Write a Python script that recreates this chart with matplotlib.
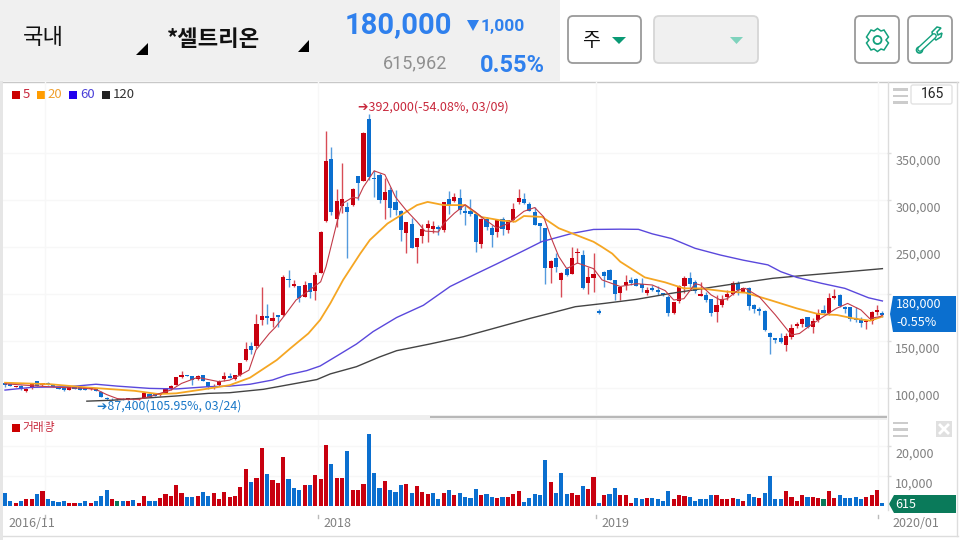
import matplotlib
matplotlib.use("Agg")
import matplotlib.pyplot as plt
from matplotlib.patches import Circle, FancyBboxPatch, Polygon, Rectangle
from matplotlib.transforms import ScaledTranslation

plt.rcParams["font.family"] = ["Noto Sans CJK KR", "DejaVu Sans"]

# weekly candles, thousand won
opens = [105.6,103.9,101.4,102.4,96.4,99.6,107.1,102.8,105.6,103.5,101,100,97.9,102.1,100.7,100.3,98.6,99.3,96,89.7,
         88.6,87.9,88.6,87.9,88.5,87.9,89.3,94,93.6,92.2,95,98.6,103.2,111.7,113.8,112.7,109.5,113.4,106.4,99.6,
         102.8,109.5,112.4,109.2,113.4,129.4,144.3,144.3,172.7,176.2,171.2,177.3,177.6,215.6,208.8,208.8,197.1,211.3,203.5,222.6,
         278,343.2,280.1,293.2,292.5,294.6,325.5,320.5,386.1,323.4,326.6,300,310.2,297.5,288.6,264.5,274.4,249.9,262,270.5,
         268.7,271.6,268,301,299.2,302.1,288.6,288.2,284.7,253.5,279.4,269.8,265.5,279.4,268,278.3,297.8,301.4,295.7,286.8,
         275.5,269.8,227.6,237.9,214.8,226.2,221.6,243.9,241.4,211.3,216.6,182.2,223.3,225.8,214.5,200.6,209.6,214.9,216.3,210.3,
         201.4,206,204.6,200.7,197.2,179.4,192.6,208.9,217,212.4,198.2,199,194.3,180.5,188.3,196.5,200,212,202.5,206.4,
         188,184.4,182,158.5,153.2,153.2,146,154.6,166,168.1,175.2,165.2,172.3,183,179.4,196.1,199,186.5,185.8,174.5,
         173.1,169.9,171.3,180.9,179.8]
highs = [106.7,104.5,102.5,102.8,99.6,105.6,107.5,105.6,106,104,101.4,100.4,101,102.5,101,100.7,101,99.6,96.4,90.5,
         89,89,89,89.3,89,89.7,94.7,94.3,94,95,100,103,112,118,114.2,113,114,113.8,106.7,104,
         108.5,116.6,116,113.8,127,148.5,149.3,178.3,207,189.3,180.5,177.3,220,225.5,214.9,209,213.8,211.6,223.7,267,
         373.7,356,311.3,339,298.2,312.5,326,372,392,331.9,328.3,323,314.1,310.6,289,276.9,280.4,259.5,274,278.7,
         277.6,273.7,298.2,309.9,307,311.3,294.6,301.4,285,280.4,282.2,273.3,278.7,282.2,279,296.4,311.3,307.8,298.2,292.1,
         276,270,236,243.2,223.7,228.3,249.6,248.5,246.7,229,243.2,183.6,224,226.5,215,207.5,220.2,217.8,216.7,216.7,
         207.8,209.6,208.9,201,199,191.5,209.6,219.2,223,215,213.1,202.5,194.7,199,199,204.3,213.8,213.8,207.8,207.8,
         189.4,185.8,183,160,153.5,158.2,158.2,168,170.6,174.8,175.5,174,183.7,188.3,201.4,205.3,199.6,187.2,186.5,185.8,
         175.9,172.3,182.3,188.3,182.3]
lows = [101.4,102,101,98.2,96,99.2,102,102.4,103,100.7,98.9,97.1,97.5,99,98,98,98.2,96.8,90,87.4,
        87.6,87.6,87.7,87.6,87.7,87.6,89,90.4,91,92,94.7,98.2,103,110.6,112.4,103.2,109,107,99.3,99.2,
        102.4,107.8,110.6,109,113,129,135.8,143,167,167.7,165.2,165.2,177,207,207.5,191.8,196.4,195.4,193.6,222,
        276.9,284,270.9,285.8,237.9,294,300,320,321.2,302.8,297.1,279.4,281.5,284,256.7,243.2,248.5,233.3,253.8,255.6,
        264.5,262.7,266.3,285,298,285,273.3,282.9,245,248.5,268,250.3,261,262.7,264.5,277,295.7,296,288,273,
        255.6,210.6,212,223.7,196.4,219.5,221,232.6,205.2,200,202.4,178.6,207.7,214.8,193.5,193.5,204.3,209.6,208,202.5,
        199,203.5,199,198.2,177,179,190,200.7,206,201.4,197.9,191.8,177,170.6,185.8,193.6,199,199,202,183,
        179.4,177.7,161,136.2,147.5,147.5,139.7,151.8,163.5,165.2,163.5,158.9,170.6,178.7,177.7,194.7,185.8,180.2,171.3,170.6,
        165.2,163.1,168.1,177.7,175.9]
closes = [103.2,102.4,102.1,98.6,99.3,105.3,102.4,105.3,103.5,101,99.3,97.5,100.7,99.3,98.2,98.2,100,97.1,90.4,87.9,
          87.8,88.6,88,89,88,89.3,94.3,90.7,91.5,94.7,99.6,102.5,111.3,113.4,112.7,108.1,112.7,107.4,100.7,102.1,
          107.8,112.4,111,113.4,126.2,141.5,140.4,167.7,176.2,174.1,174.4,175.9,217.7,214.5,210.6,195.4,209.5,201.7,220.2,266.3,
          341.1,286.8,299.2,300.7,287.5,312,317.7,371.6,324.8,322.3,299.6,308.5,291.4,289.3,268,276.2,249.2,259.2,268.7,274,
          272.6,268.7,297.8,294.6,302.8,289.3,286.5,285,255.3,279.4,271.6,262.4,278.3,269.4,278.3,290,301.7,296.4,288.6,273.7,
          272.3,227.2,235.4,228.7,222.6,220.1,237.9,244.6,206.3,218.4,220.9,180,219.4,215.2,199.9,207,213.1,212,208.5,206,
          204,204,202.1,198.6,179.4,191.1,208.2,217,210.3,203.2,200,193.6,179.8,188.7,195,200,211.4,204.3,206.4,187.2,
          183.7,182.3,161.7,154.6,151,149,155.3,164.2,168.1,173.8,164.5,171.3,179.8,179.8,196.1,197.9,187.2,184.4,173.8,172.3,
          169.5,171.3,180.5,182.6,178]

# weekly volume, thousand shares, with the bar colour the chart uses
volumes = [4.4,1.7,1.1,1.7,2.2,2.2,3.9,4.9,2.2,1.8,1.3,1.7,1.1,1.1,1.1,1.6,1.1,1.7,3.3,5.3,
           2.2,1.7,1.7,1.7,2.1,0.9,3.3,1.7,1.7,2.6,3.9,3.3,6.9,4.2,3,3,3.3,4.7,3.3,4.2,
           2.2,4.7,2.9,3.3,6.4,12.5,8.1,9.4,19.4,10.8,8.7,7.8,16.4,9.1,6.1,5.2,6.9,6.9,10.4,9.1,
           20.5,13.9,9.5,9.2,18.3,5.3,5.3,7.4,23.9,10.9,6.1,8.3,5.3,4.8,6.9,7.4,4.4,6.7,4.8,3.9,
           4.4,2.2,4.4,5.3,3.6,4.4,3.1,2.7,5.6,3.6,3.9,3.1,2.7,3.1,3.1,4,4.9,1.3,2.7,4,
           3.6,15.2,7.9,4.4,10.9,4,4.4,3.6,6.7,5.8,9.7,0.9,3.6,4,6.1,3.6,3.6,0.9,2.7,2.4,
           2.7,2.7,2.4,1.8,4.9,2.2,3.6,3.3,3.1,1.7,2.4,2.2,3.6,3.6,2.2,2.4,2.7,2.2,1.8,4,
           3.1,2.7,4.4,10,2.2,2.2,4.9,3.1,1.8,3.6,3.1,3.1,2.7,2.2,4.9,2.7,3.6,2.7,2.7,3.1,
           2.2,3.1,3.6,5.3,0.9]
volume_kinds = ("bbrbrrbrbb" "bbrrbbrbbb" "rgbrbrrbbr" "rrrrbbrbbr" "rrrrrrbrrb" "rrrbbbrbrr"
                "rbrrbrrrbb" "brbbbrbrrr" "bbrbrbbbbr" "bbrbrrrbbb" "bbrbbbrrbr" "rbrbbrrrbb"
                "rbbbbrrrbb" "bbbrrrrbrb" "brbbbbrrrr" "brrgrrbbbb" "brrrb")

# moving averages at a few candle positions
ma5_idx = [0,5,10,15,17,19,21,23,25,27,29,31,33,36,38,40,42,44,45.6,46.9,49.4,50.6,52.5,54.4,59,60,62,63,65,66,
           67,69,71,73,75,77,78.5,81,82,84,86,88,89.5,92,94,95,97,99,100.7,102,103.5,105,107,110,111.6,115,118,121,123.4,125,
           126.9,129,130,132,133.7,135,137,138.4,141,144,147,148.5,150.6,153,155.4,157.5,160,161.6,163.6,164]
ma5 = [104.5,102.5,100.7,99.6,98.5,93,88.7,88,88,90.7,94.3,97.8,104.9,111.3,109,106.7,108.4,114,119,140.4,158,165,179,193.6,213,229,275,296,303,302,
       314,331,327,303,289,277,267,266,275,286,295,287,280,270,275,279,288,292,282,261,240,227,233,227,215,208,211,209.6,203.6,193.6,
       195,211,209.6,199,193.6,195,204,206,197,177.7,156.4,158,167,176,184.7,190,183,174,176,177.6]
ma20_idx = [0,8.5,15,24.2,28.6,32,37,42,45.8,50.8,53.3,56.7,58.9,60.8,63.2,66.4,68.2,71.5,74.6,77,79,82,86,89,93,95.4,97,100.4,103.5,106,110,
            111.5,113.5,115,119.6,123.4,126.9,130,135,138.4,143,148,152,155.5,158.6,161.7,164]
ma20 = [105.6,104,100.7,97,93.6,94.3,98.5,103,111,129.8,142,158,172.4,190,215,243,257.5,275,286,294.6,298,294.6,294.6,282,278,277,283,282,270,264.5,255.6,
        250.4,243,234.4,217.7,212.4,206,206,202.5,201.4,193.6,184.7,178.7,177.7,174,171.6,176]
ma60_idx = [0,5,12,17,21,27,32,38,42,45.8,50,52.7,56.4,58.9,62,65.7,68.8,73.2,78.2,83.2,87.5,91.9,96.9,100.3,106,110,115,118.4,121,124.6,129,133.7,
            138,142.6,145,148,152.6,157,161.4,164]
ma60 = [97.8,100.7,101.4,104,102,99.6,99,101.4,102,104,108.5,113.8,118.5,123.4,134,146.8,160,175,188,208,220,232,246,255.7,264.5,268.7,269,268.8,264,259,248.6,241.5,
        236,231,223.8,217.7,211.4,206,196,192.6]
ma120_idx = [15.3,20,25.5,32,38,42,48.3,54.5,58.3,60.8,65.7,70,73.2,79.4,85.7,90.7,98.1,101.9,106.6,112,118,124.5,130.7,137,143.5,149.8,156,162,164]
ma120 = [86,87,89,91.5,94.3,95,98.6,105,109,115,122.7,133,139.7,146.8,154.6,162.4,174,179.5,186.5,190,194.3,200.7,206,211.4,216.7,220,223,226,227]

price_ticks = [100, 150, 200, 250, 300, 350]
volume_ticks = [10, 20]
date_ticks = [7.5, 58.5, 110.5, 163.2]

RED = "#c8000f"
BLUE = "#0b6fcf"
GREEN = "#0a7a5a"
HEAD_BLUE = "#2f80ed"
TEAL = "#12a07c"
GRID = "#f7f7f7"
KINDS = {"r": RED, "b": BLUE, "g": GREEN}

SLOT = 5.35
FIRST = 5.0


def pixel_axes(fig, left, top, right, bottom):
    return fig.add_axes([left / 960, 1 - bottom / 540, (right - left) / 960, (bottom - top) / 540])


def button(ax, x0, y0, x1, y1, face, edge):
    ax.add_patch(FancyBboxPatch((x0 + 5, y0 + 5), x1 - x0 - 10, y1 - y0 - 10, boxstyle="round,pad=5",
                                fc=face, ec=edge, lw=1.3))


def draw_frame(ax):
    ax.set_xlim(0, 960)
    ax.set_ylim(540, 0)
    ax.axis("off")
    ax.add_patch(Rectangle((0, 0), 560, 81, fc="#f0f0f0", ec="none"))
    ax.add_patch(Rectangle((0, 81), 3, 459, fc="#e6e6e6", ec="none"))
    ax.add_patch(Rectangle((3, 415), 884, 5, fc="#eeeeee", ec="none"))
    ax.add_patch(Rectangle((430, 416), 457, 2, fc="#b8b8b8", ec="none"))
    ax.plot([3, 958], [81.5, 81.5], color="#c8c8c8", lw=1)
    ax.plot([3, 958], [536, 536], color="#dddddd", lw=1)
    ax.plot([887.5, 887.5], [82, 510], color="#dcdcdc", lw=1)
    ax.plot([957, 957], [82, 536], color="#dddddd", lw=1)

    ax.text(23, 37, "국내", fontsize=16, color="#111111", va="center")
    ax.text(167, 39, "*셀트리온", fontsize=16, weight="bold", color="#111111", va="center")
    ax.add_patch(Polygon([(136, 55), (148, 55), (148, 43)], fc="black"))
    ax.add_patch(Polygon([(298, 52), (309, 52), (309, 40)], fc="black"))
    ax.text(345, 25, "180,000", fontsize=21, weight="bold", color=HEAD_BLUE, va="center", family="Roboto")
    ax.add_patch(Polygon([(467, 20), (479, 20), (473, 31)], fc=HEAD_BLUE))
    ax.text(481, 26, "1,000", fontsize=12.5, weight="bold", color=HEAD_BLUE, va="center", family="Roboto")
    ax.text(383, 63, "615,962", fontsize=13, color="#8f8f8f", va="center", family="Roboto")
    ax.text(480, 66, "0.55%", fontsize=17, weight="bold", color=HEAD_BLUE, va="center", family="Roboto")

    button(ax, 568, 16, 641, 63, "white", "#9a9a9a")
    ax.text(591, 40, "주", fontsize=14, color="#111111", ha="center", va="center")
    ax.add_patch(Polygon([(612, 37), (626, 37), (619, 44)], fc="#0a9a75"))
    button(ax, 654, 16, 758, 63, "#f0f0f0", "#d6d6d6")
    ax.add_patch(Polygon([(730, 37), (743, 37), (736.5, 44)], fc="#7fd3bd"))
    button(ax, 855, 16, 899, 63, "white", "#9a9a9a")
    button(ax, 908, 16, 952, 63, "white", "#9a9a9a")

    # gear and wrench icons
    ax.add_patch(Circle((877.5, 40), 4, fc="none", ec=TEAL, lw=1.3))
    ax.add_patch(Polygon([(871, 30), (874, 31), (877.5, 28.5), (881, 31), (884, 30), (888.5, 37), (886, 40),
                          (888.5, 43), (884, 50), (881, 49), (877.5, 51.5), (874, 49), (871, 50), (866.5, 43),
                          (869, 40), (866.5, 37)], fc="none", ec=TEAL, lw=1.1))
    ax.plot([920, 934], [49, 36], color=TEAL, lw=4.2, solid_capstyle="round")
    ax.plot([920, 934], [49, 36], color="white", lw=2.2, solid_capstyle="round")
    ax.add_patch(Circle((919.5, 50), 3, fc="white", ec=TEAL, lw=1.2))
    ax.add_patch(Polygon([(933, 37), (932, 32), (937, 27), (941, 28), (937, 32), (938, 35), (942, 33), (941, 37), (936, 40)],
                         fc="white", ec=TEAL, lw=1.1))

    # side panel controls
    for top in (88, 94.5, 101):
        ax.add_patch(Rectangle((893, top), 15, 2.6, fc="#cccccc", ec="none"))
        ax.add_patch(Rectangle((893, top + 333.5), 15, 2.6, fc="#cccccc", ec="none"))
    ax.add_patch(FancyBboxPatch((913, 87), 37, 15, boxstyle="round,pad=2", fc="white", ec="#e2e2e2", lw=1))
    ax.text(932, 94, "165", fontsize=10, color="#222222", ha="center", va="center", family="Roboto")
    ax.add_patch(Rectangle((936, 421), 16, 16, fc="#e0e0e0", ec="none"))
    ax.plot([940, 948], [425, 433], color="white", lw=2)
    ax.plot([948, 940], [425, 433], color="white", lw=2)

    # legend
    for box, label_x, label, box_color, text_color in [
        (12, 23, "5", "#cc0000", "#c8283c"),
        (37, 47, "20", "#ff9c00", "#f0a030"),
        (69, 80, "60", "#2200ee", "#4a40d8"),
        (102, 113, "120", "#222222", "#333333"),
    ]:
        ax.add_patch(Rectangle((box, 91), 8, 8, fc=box_color, ec="none"))
        ax.text(label_x, 94.5, label, fontsize=9.5, color=text_color, va="center")
    ax.add_patch(Rectangle((12, 424), 8, 8, fc="#cc0000", ec="none"))
    ax.text(22, 427.5, "거래량", fontsize=8.5, color="#c8283c", va="center")

    # date labels
    for x, label in [(8, "2016/11"), (323, "2018"), (601, "2019"), (892, "2020/01")]:
        ax.text(x, 523.5, label, fontsize=9, color="#808080", va="center")
    for tick in date_ticks:
        px = FIRST + SLOT * tick
        ax.plot([px, px], [515, 518], color="#bbbbbb", lw=1)

    # last value tags
    ax.add_patch(Polygon([(890, 314), (893, 296), (956, 296), (956, 332), (893, 332)], fc=BLUE))
    ax.text(896, 304, "180,000", fontsize=9, color="white", va="center")
    ax.text(896, 322, "-0.55%", fontsize=9, color="white", va="center")
    ax.add_patch(Polygon([(889, 504), (894, 495), (956, 495), (956, 513), (894, 513)], fc=GREEN))
    ax.text(895, 504, "615", fontsize=9, color="white", va="center")


def style_panel(ax, ticks, labels):
    for spine in ax.spines.values():
        spine.set_visible(False)
    ax.set_xticks(date_ticks)
    ax.set_xticklabels([])
    ax.tick_params(axis="x", length=0)
    ax.yaxis.tick_right()
    ax.set_yticks(ticks)
    ax.set_yticklabels(labels, fontsize=9, color="#808080", va="top")
    ax.tick_params(axis="y", length=3, width=1, color="#dddddd", pad=3)
    # the labels sit a little under their tick in this chart
    nudge = ScaledTranslation(0, -2 / 100, ax.figure.dpi_scale_trans)
    for label in ax.get_yticklabels():
        label.set_transform(label.get_transform() + nudge)
    ax.grid(True, color=GRID, lw=1)
    ax.set_axisbelow(True)
    ax.patch.set_alpha(0)


def draw_prices(ax):
    x = range(len(closes))
    colors = [RED if c >= o else BLUE for o, c in zip(opens, closes)]
    ax.vlines(x, lows, highs, colors=colors, lw=1, alpha=0.7)
    ax.bar(x, [abs(c - o) for o, c in zip(opens, closes)], bottom=[min(o, c) for o, c in zip(opens, closes)],
           width=0.78, color=colors, lw=0)
    ax.plot(ma120_idx, ma120, color="#444444", lw=1)
    ax.plot(ma60_idx, ma60, color="#5a48dc", lw=1)
    ax.plot(ma20_idx, ma20, color="#f5a623", lw=1.3)
    ax.plot(ma5_idx, ma5, color="#c23a48", lw=0.8)
    ax.set_xlim((3 - FIRST) / SLOT, (887 - FIRST) / SLOT)
    ax.set_ylim(100 + (388 - 415) * 1.064, 100 + (388 - 82) * 1.064)
    ax.text(66, 392, "➔392,000(-54.08%, 03/09)", fontsize=9, color="#c8283c", va="bottom", ha="left")
    ax.text(17.2, 87.4, "➔87,400(105.95%, 03/24)", fontsize=8.9, color="#1a78c8", va="top", ha="left")
    labels = ["" if tick == 200 else f"{tick * 1000:,}" for tick in price_ticks]
    style_panel(ax, price_ticks, labels)


def draw_volume(ax):
    x = range(len(volumes))
    ax.bar(x, volumes, width=0.78, color=[KINDS[kind] for kind in volume_kinds], lw=0)
    ax.set_xlim((3 - FIRST) / SLOT, (887 - FIRST) / SLOT)
    ax.set_ylim(0, (506 - 420) / 3.0)
    style_panel(ax, volume_ticks, [f"{tick * 1000:,}" for tick in volume_ticks])


def main():
    fig = plt.figure(figsize=(9.6, 5.4), dpi=100, facecolor="white")
    frame = fig.add_axes([0, 0, 1, 1])
    draw_frame(frame)
    draw_prices(pixel_axes(fig, 3, 82, 887, 415))
    draw_volume(pixel_axes(fig, 3, 420, 887, 506))
    fig.savefig("out.png", dpi=100)
    plt.close(fig)


if __name__ == "__main__":
    main()
